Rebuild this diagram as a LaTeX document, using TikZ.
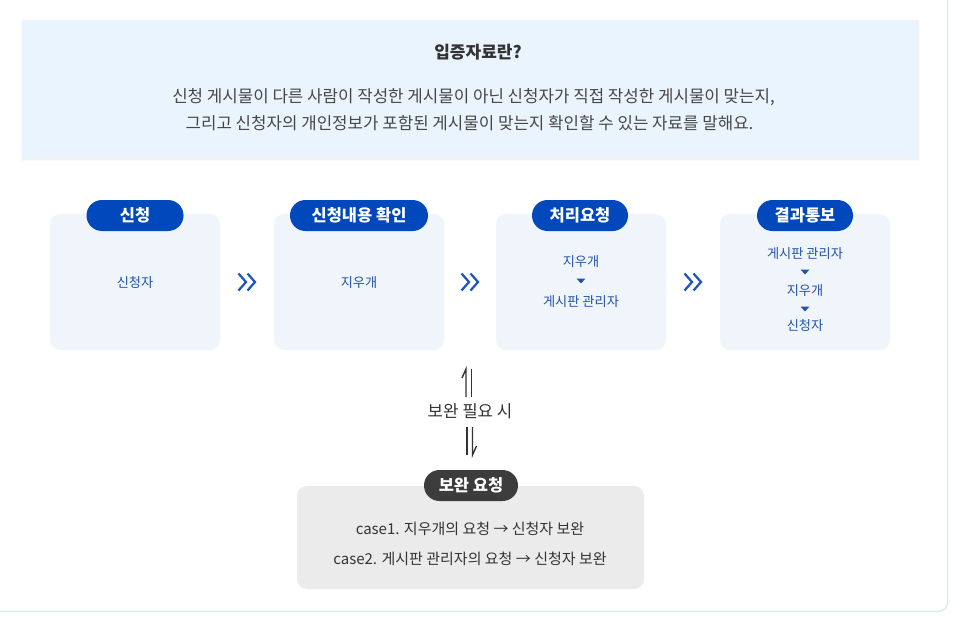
\documentclass[tikz,border=0pt]{standalone}
\usepackage{fontspec}
\setmainfont{Noto Sans CJK KR}
\usetikzlibrary{calc}
\definecolor{outerline}{HTML}{D5E8FA}
\definecolor{topfill}{HTML}{EAF4FE}
\definecolor{boxfill}{HTML}{F0F5FC}
\definecolor{pillblue}{HTML}{0048BB}
\definecolor{txtblue}{HTML}{2152AA}
\definecolor{chevblue}{HTML}{1C53BE}
\definecolor{grayfill}{HTML}{EBEBEB}
\definecolor{darkpill}{HTML}{3C3C3C}
\definecolor{txtdark}{HTML}{333333}
\newcommand\mytri[2]{\fill[txtblue] (#1-4.5,#2-2.5) -- (#1+4.5,#2-2.5) -- (#1,#2+2.5) -- cycle;}
\newcommand\mychev[1]{%
  \draw[chevblue, line width=2.2pt, line join=miter] ($(#1)+(-8.5,-8.5)$) -- ($(#1)+(-1,0)$) -- ($(#1)+(-8.5,8.5)$);
  \draw[chevblue, line width=2.2pt, line join=miter] ($(#1)+(0.5,-8.5)$) -- ($(#1)+(8,0)$) -- ($(#1)+(0.5,8.5)$);}
\begin{document}
\begin{tikzpicture}[x=1pt,y=-1pt,
  stepbox/.style={fill=boxfill, rounded corners=10pt, minimum width=170pt, minimum height=136pt, inner sep=0pt},
  pill/.style={fill=pillblue, rounded corners=15.5pt, minimum height=31pt, inner sep=0pt, text=white, font=\fontsize{16.5pt}{19pt}\selectfont\bfseries},
  steptxt/.style={text=txtblue, inner sep=0pt, font=\fontsize{13.2pt}{16pt}\selectfont},
  bodytxt/.style={text=txtdark!90, inner sep=0pt, font=\fontsize{16.8pt}{20pt}\selectfont},
  casetxt/.style={text=txtdark, inner sep=0pt, font=\fontsize{15pt}{18pt}\selectfont},
  harp/.style={draw=txtdark, line width=1.4pt}]
\useasboundingbox (0,0) rectangle (964,626);
\fill[white] (0,0) rectangle (964,626);
% outer frame
\draw[outerline, line width=1.2pt, rounded corners=9pt] (-2,611.5) -- (947.5,611.5) -- (947.5,-2);
% top box
\fill[black, opacity=0.02] (21,21) rectangle (919.5,161);
\fill[black, opacity=0.03] (21.5,20.5) rectangle (919,159.5);
\node[fill=topfill, minimum width=896pt, minimum height=138pt, inner sep=0pt] (top) at (470,89) {};
\node[text=txtdark, inner sep=0pt, font=\fontsize{17pt}{20pt}\selectfont\bfseries] (ttl) at (478,52) {입증자료란?};
\node[bodytxt] (l1) at (473.5,97) {신청 게시물이 다른 사람이 작성한 게시물이 아닌 신청자가 직접 작성한 게시물이 맞는지,};
\node[bodytxt] (l2) at (469.5,123) {그리고 신청자의 개인정보가 포함된 게시물이 맞는지 확인할 수 있는 자료를 말해요.};
% step boxes
\node[stepbox] (b1) at (135,282) {};
\node[stepbox] (b2) at (359,282) {};
\node[stepbox] (b3) at (581,282) {};
\node[stepbox] (b4) at (805,282) {};
\node[pill, minimum width=97pt] (p1) at (135,215.5) {신청};
\node[pill, minimum width=138pt] (p2) at (359,215.5) {신청내용 확인};
\node[pill, minimum width=96pt] (p3) at (580,215.5) {처리요청};
\node[pill, minimum width=96pt] (p4) at (805,215.5) {결과통보};
\node[steptxt] (t1) at (135,283) {신청자};
\node[steptxt] (t2) at (359,283) {지우개};
\node[steptxt] (t3a) at (581,262) {지우개};
\mytri{581}{281}
\node[steptxt] (t3b) at (581,302) {게시판 관리자};
\node[steptxt] (t4a) at (805,254) {게시판 관리자};
\mytri{805}{272}
\node[steptxt] (t4b) at (805,291) {지우개};
\mytri{805}{309}
\node[steptxt] (t4c) at (805,326) {신청자};
% chevrons between boxes
\coordinate (c12) at ($(b1.east)!0.5!(b2.west)$);
\coordinate (c23) at ($(b2.east)!0.5!(b3.west)$);
\coordinate (c34) at ($(b3.east)!0.5!(b4.west)$);
\mychev{c12}
\mychev{c23}
\mychev{c34}
% need label and harpoons
\node[text=txtdark, inner sep=0pt, font=\fontsize{16.8pt}{20pt}\selectfont] (need) at (470,411) {보완 필요 시};
\coordinate (ua) at ($(need.center)+(-4,-14)$);
\coordinate (ub) at ($(need.center)+(1.5,-14)$);
\coordinate (da) at ($(need.center)+(-3,16)$);
\coordinate (db) at ($(need.center)+(2.5,16)$);
\draw[harp] (ua) -- ++(0,-28) -- ++(-4,9);
\draw[harp] (ub) -- ++(0,-28);
\draw[harp] (da) -- ++(0,28);
\draw[harp] (db) -- ++(0,28) -- ++(4,-9);
% bottom box
\node[fill=grayfill, rounded corners=10pt, minimum width=347pt, minimum height=103pt, inner sep=0pt] (bot) at (470.5,537.5) {};
\node[pill, fill=darkpill, minimum width=94pt] (pb) at (471,485.5) {보완 요청};
\node[casetxt] (c1) at (470,529) {case1. 지우개의 요청 → 신청자 보완};
\node[casetxt] (c2) at (470,559) {case2. 게시판 관리자의 요청 → 신청자 보완};
\end{tikzpicture}
\end{document}
